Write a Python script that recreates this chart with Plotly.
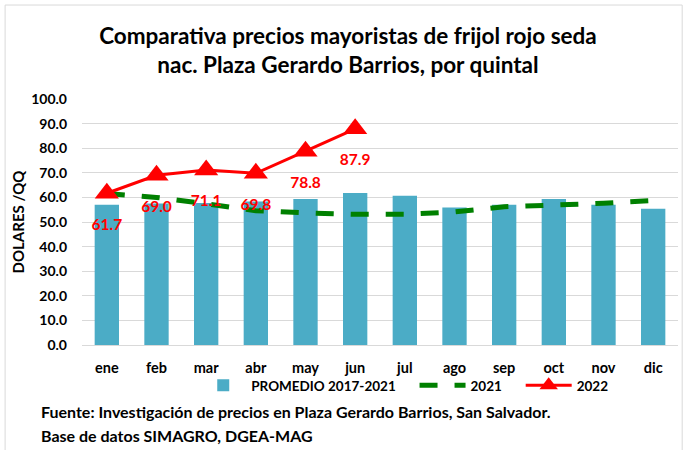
import plotly.graph_objects as go

months = ["ene", "feb", "mar", "abr", "may", "jun", "jul", "ago", "sep", "oct", "nov", "dic"]
promedio = [57.0, 57.5, 57.7, 58.3, 59.3, 61.8, 60.7, 55.9, 57.0, 59.3, 57.0, 55.4]
y2021 = [61.6, 60.0, 57.4, 54.6, 53.7, 53.1, 53.1, 54.1, 56.2, 56.8, 57.6, 58.7]
months_2022 = ["ene", "feb", "mar", "abr", "may", "jun"]
y2022 = [61.7, 69.0, 71.1, 69.8, 78.8, 87.9]

FONT = "Lato, Open Sans, sans-serif"

fig = go.Figure()
fig.add_trace(go.Bar(x=months, y=promedio, name="<b>PROMEDIO 2017-2021</b>\u00a0\u00a0\u00a0\u00a0",
                     marker=dict(color="#4bacc6", line=dict(width=0))))
fig.add_trace(go.Scatter(x=months, y=y2021, name="<b>2021</b>\u00a0\u00a0\u00a0\u00a0", mode="lines",
                         line=dict(color="#008000", width=5, dash="18px,17px")))
fig.add_trace(go.Scatter(x=months_2022, y=y2022, name="<b>2022</b>", mode="lines+markers",
                         line=dict(color="#ff0000", width=3),
                         marker=dict(symbol="triangle-up", size=21, color="#ff0000")))
# data labels for 2022 (invisible larger marker gives the label offset)
fig.add_trace(go.Scatter(x=months_2022, y=y2022, mode="markers+text", showlegend=False,
                         hoverinfo="skip",
                         marker=dict(size=38, color="rgba(0,0,0,0)"),
                         text=[f"{v:.1f}" for v in y2022], texttemplate="<b>%{text}</b>",
                         textposition="bottom center",
                         textfont=dict(color="#ff0000", size=15.5, family=FONT)))

fig.update_layout(
    width=689, height=450,
    margin=dict(l=82, r=11, t=99, b=105, autoexpand=False),
    paper_bgcolor="white", plot_bgcolor="white",
    font=dict(family=FONT, color="black", size=13),
    title=dict(text="<b>Comparativa precios mayoristas de frijol rojo seda<br>nac. Plaza Gerardo Barrios, por quintal</b>",
               x=0.505, xanchor="center", y=0.902, yanchor="top",
               font=dict(size=22.5, family=FONT)),
    bargap=0.51,
    showlegend=True,
    legend=dict(orientation="h", x=0.19, xanchor="left", y=-0.102, yanchor="top",
                bgcolor="rgba(0,0,0,0)",
                font=dict(size=13.5, family=FONT), itemwidth=46, tracegroupgap=0),
    xaxis=dict(range=[-0.5, 11.5], showgrid=False, showline=False, ticks="", automargin=False,
               tickprefix="<b>", ticksuffix="</b>", tickfont=dict(size=14.5, family=FONT),
               ticklabelstandoff=12),
    yaxis=dict(range=[0, 100], dtick=10, tickformat=".1f", gridcolor="#d9d9d9", gridwidth=1.3,
               zeroline=True, zerolinecolor="#d9d9d9", zerolinewidth=1.3, automargin=False,
               tickprefix="<b>", ticksuffix="</b>",
               tickfont=dict(size=14, family=FONT), ticklabelstandoff=14,
               title=dict(text="<b>DOLARES /QQ</b>", font=dict(size=15, family=FONT), standoff=2)),
    shapes=[dict(type="rect", xref="paper", yref="paper", x0=-0.129, x1=1.007, y0=-0.45, y1=1.382,
                 line=dict(color="#d9d9d9", width=1))],
)

fig.add_annotation(text="<b>Fuente: Investigación de precios en Plaza Gerardo Barrios, San Salvador.</b>",
                   xref="paper", yref="paper", x=-0.072, y=-0.272, xanchor="left", yanchor="middle",
                   showarrow=False, font=dict(size=16, family=FONT))
fig.add_annotation(text="<b>Base de datos SIMAGRO, DGEA-MAG</b>",
                   xref="paper", yref="paper", x=-0.072, y=-0.366, xanchor="left", yanchor="middle",
                   showarrow=False, font=dict(size=16, family=FONT))

fig.write_html("out.html", config={"displayModeBar": False},
               post_script="document.body.style.margin='0';document.body.style.overflow='hidden';")
